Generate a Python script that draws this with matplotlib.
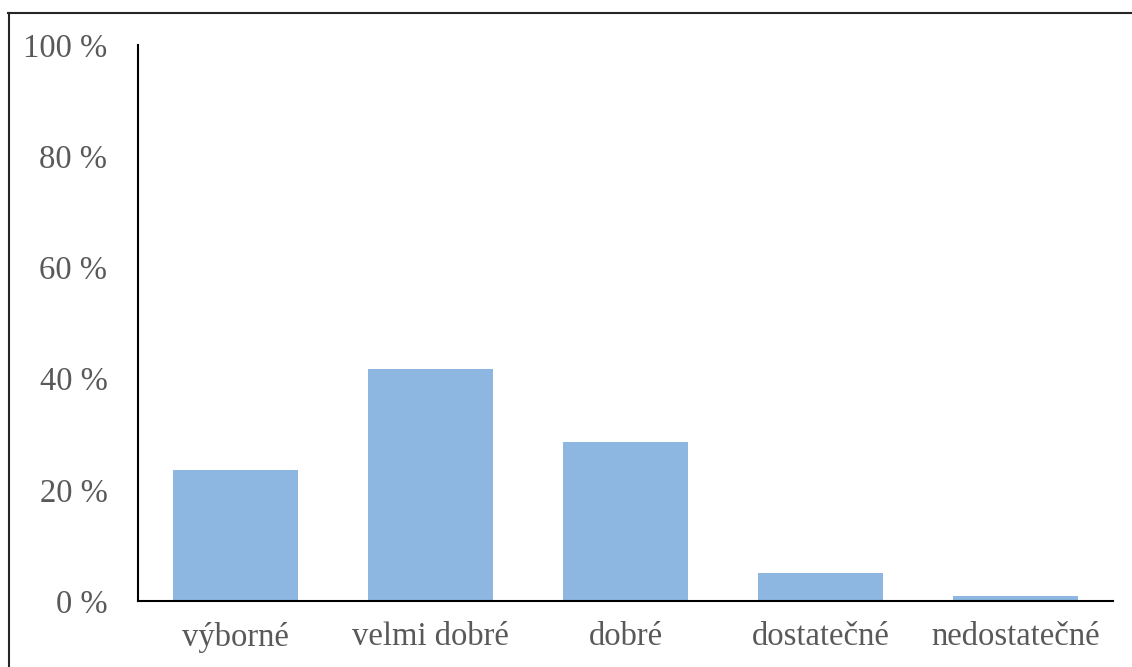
import matplotlib
matplotlib.use("Agg")
import matplotlib.pyplot as plt
from matplotlib.lines import Line2D
from matplotlib.ticker import FuncFormatter

categories = ["výborné", "velmi dobré", "dobré", "dostatečné", "nedostatečné"]
values = [23.6, 41.7, 28.6, 5.0, 0.9]
yticks = [0, 20, 40, 60, 80, 100]

plt.rcParams['font.family'] = ['Liberation Serif', 'DejaVu Serif']

fig = plt.figure(figsize=(11.32, 6.67), dpi=100)
ax = fig.add_axes([138/1132, 1-601/667, (1113-138)/1132, (601-45)/667])

ax.bar(range(len(categories)), values, width=0.646, color='#8DB7E0')
ax.set_xlim(-0.5, len(categories)-0.5)
ax.set_ylim(0, 100)
ax.set_yticks(yticks)
ax.yaxis.set_major_formatter(FuncFormatter(lambda v, p: "%d %%" % v))
ax.set_xticks(range(len(categories)))
ax.set_xticklabels(categories)

for s in ['top', 'right']:
    ax.spines[s].set_visible(False)
for s in ['left', 'bottom']:
    ax.spines[s].set_linewidth(1.5)
    ax.spines[s].set_color('black')
ax.tick_params(axis='both', length=0, labelsize=23.5, colors='#595959')
ax.tick_params(axis='y', pad=22)
ax.tick_params(axis='x', pad=15)

# outer frame (cropped)
fig.add_artist(Line2D([8/1132, 1], [1-13/667, 1-13/667], color='#262626', lw=1.5, transform=fig.transFigure))
fig.add_artist(Line2D([9/1132, 9/1132], [0, 1-13/667], color='#262626', lw=1.5, transform=fig.transFigure))

plt.savefig('out.png', dpi=100)
